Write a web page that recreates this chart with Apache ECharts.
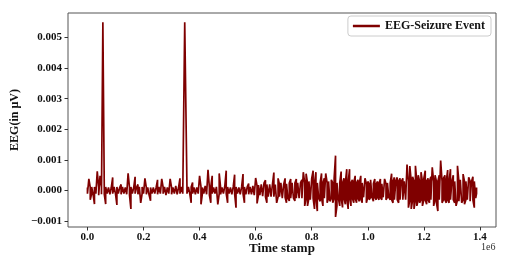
<!DOCTYPE html>
<html>
<head>
<meta charset="utf-8">
<script src="https://cdn.jsdelivr.net/npm/echarts@6/dist/echarts.min.js"></script>
<style>html,body{margin:0;padding:0;background:#fff}#c{width:512px;height:268px}</style>
</head>
<body>
<div id="c"></div>
<script>
// Time stamps (samples)
const timeStamp = [
0,5e3,10e3,15e3,20e3,25e3,30e3,35e3,40e3,45e3,50e3,55e3,60e3,65e3,70e3,75e3,80e3,85e3,90e3,95e3,
100e3,105e3,110e3,115e3,120e3,125e3,130e3,135e3,140e3,145e3,150e3,155e3,160e3,165e3,170e3,175e3,180e3,185e3,190e3,195e3,
200e3,205e3,210e3,215e3,220e3,225e3,230e3,235e3,240e3,245e3,250e3,255e3,260e3,265e3,270e3,275e3,280e3,285e3,290e3,295e3,
300e3,305e3,310e3,315e3,320e3,325e3,330e3,335e3,340e3,347e3,355e3,360e3,365e3,370e3,375e3,380e3,385e3,390e3,395e3,
400e3,405e3,410e3,415e3,420e3,425e3,430e3,435e3,440e3,445e3,450e3,455e3,460e3,465e3,470e3,475e3,480e3,485e3,490e3,495e3,
500e3,505e3,510e3,515e3,520e3,525e3,530e3,535e3,540e3,545e3,550e3,555e3,560e3,565e3,570e3,575e3,580e3,585e3,590e3,595e3,
600e3,605e3,610e3,615e3,620e3,625e3,630e3,635e3,640e3,645e3,650e3,655e3,660e3,665e3,670e3,675e3,680e3,685e3,690e3,695e3,
700e3,705e3,710e3,715e3,720e3,725e3,730e3,735e3,740e3,745e3,750e3,755e3,760e3,765e3,770e3,775e3,780e3,785e3,790e3,795e3,
800e3,805e3,810e3,815e3,820e3,825e3,830e3,835e3,840e3,845e3,850e3,855e3,860e3,865e3,870e3,875e3,880e3,885e3,890e3,895e3,
900e3,905e3,910e3,915e3,920e3,925e3,930e3,935e3,940e3,945e3,950e3,955e3,960e3,965e3,970e3,975e3,980e3,985e3,990e3,995e3,
1000e3,1005e3,1010e3,1015e3,1020e3,1025e3,1030e3,1035e3,1040e3,1045e3,1050e3,1055e3,1060e3,1065e3,1070e3,1075e3,1080e3,1085e3,1090e3,1095e3,
1100e3,1105e3,1110e3,1115e3,1120e3,1125e3,1130e3,1135e3,1140e3,1145e3,1150e3,1155e3,1160e3,1165e3,1170e3,1175e3,1180e3,1185e3,1190e3,1195e3,
1200e3,1205e3,1210e3,1215e3,1220e3,1225e3,1230e3,1235e3,1240e3,1245e3,1250e3,1255e3,1260e3,1265e3,1270e3,1275e3,1280e3,1285e3,1290e3,1295e3,
1300e3,1305e3,1310e3,1315e3,1320e3,1325e3,1330e3,1335e3,1340e3,1345e3,1350e3,1355e3,1360e3,1365e3,1370e3,1375e3,1380e3,1385e3,1388e3
];
// EEG per-sample maximum (in µV as labelled)
const eegHigh = [
1.0e-4,3.8e-4,1.0e-4,1.2e-4,1.0e-4,1.2e-4,1.5e-4,6.3e-4,1.0e-4,4.8e-4,1.2e-4,55e-4,1.0e-4,1.2e-4,1.2e-4,1.0e-4,1.5e-4,1.0e-4,4.3e-4,1.2e-4,
1.0e-4,1.2e-4,1.6e-4,1.0e-4,2.0e-4,1.2e-4,1.2e-4,1.0e-4,1.5e-4,5.6e-4,1.0e-4,1.2e-4,1.8e-4,1.0e-4,4.5e-4,1.0e-4,2.0e-4,1.2e-4,1.0e-4,1.2e-4,
1.0e-4,4.0e-4,1.0e-4,1.0e-4,1.2e-4,1.0e-4,1.2e-4,1.0e-4,1.5e-4,1.0e-4,3.5e-4,1.2e-4,1.0e-4,3.8e-4,1.0e-4,1.2e-4,1.0e-4,1.0e-4,1.2e-4,3.8e-4,
1.0e-4,1.0e-4,1.2e-4,1.5e-4,1.0e-4,1.0e-4,4.0e-4,1.2e-4,1.2e-4,55e-4,1.0e-4,1.2e-4,1.0e-4,1.2e-4,2.6e-4,1.0e-4,1.5e-4,1.0e-4,1.0e-4,
4.8e-4,1.2e-4,1.0e-4,1.0e-4,1.5e-4,1.2e-4,6.8e-4,1.0e-4,1.2e-4,4.8e-4,1.0e-4,1.0e-4,1.2e-4,1.0e-4,5.6e-4,1.0e-4,1.0e-4,1.2e-4,1.5e-4,6.5e-4,
1.2e-4,1.2e-4,1.0e-4,1.5e-4,1.2e-4,5.2e-4,1.2e-4,1.5e-4,1.0e-4,1.2e-4,1.2e-4,5.4e-4,1.2e-4,1.2e-4,1.2e-4,2.3e-4,1.2e-4,1.8e-4,1.5e-4,2.0e-4,
4.1e-4,1.5e-4,1.8e-4,1.5e-4,2.0e-4,1.8e-4,2.5e-4,3.4e-4,2.0e-4,2.0e-4,2.0e-4,2.5e-4,2.0e-4,5.9e-4,2.0e-4,2.0e-4,4.0e-4,2.0e-4,2.5e-4,2.2e-4,
2.0e-4,4.0e-4,2.2e-4,2.5e-4,2.5e-4,3.8e-4,2.5e-4,3.0e-4,2.5e-4,3.8e-4,2.5e-4,2.5e-4,2.5e-4,3.5e-4,6.0e-4,2.5e-4,5.5e-4,2.5e-4,3.0e-4,2.5e-4,
4.0e-4,6.5e-4,2.5e-4,6.0e-4,2.5e-4,3.0e-4,2.5e-4,5.6e-4,2.5e-4,4.0e-4,5.6e-4,2.5e-4,3.0e-4,2.5e-4,3.5e-4,2.5e-4,4.0e-4,11.4e-4,2.5e-4,3.0e-4,
2.5e-4,6.2e-4,2.5e-4,4.0e-4,2.5e-4,7.0e-4,2.5e-4,7.0e-4,2.5e-4,3.5e-4,2.5e-4,4.8e-4,2.5e-4,3.5e-4,2.5e-4,4.8e-4,2.5e-4,3.0e-4,4.0e-4,2.2e-4,
3.0e-4,2.2e-4,3.5e-4,4.0e-4,2.2e-4,3.8e-4,2.2e-4,3.0e-4,2.2e-4,3.8e-4,2.2e-4,2.5e-4,3.8e-4,2.2e-4,2.5e-4,3.0e-4,2.5e-4,5.5e-4,3.0e-4,4.3e-4,
3.0e-4,4.3e-4,3.0e-4,4.0e-4,3.0e-4,4.0e-4,3.0e-4,3.0e-4,8.5e-4,3.0e-4,8.0e-4,3.0e-4,4.5e-4,3.0e-4,8.1e-4,3.0e-4,5.0e-4,3.0e-4,6.0e-4,3.0e-4,
4.0e-4,6.5e-4,3.0e-4,4.0e-4,3.0e-4,4.5e-4,7.6e-4,3.0e-4,5.0e-4,3.0e-4,3.0e-4,5.0e-4,9.8e-4,3.0e-4,4.0e-4,5.0e-4,3.0e-4,6.7e-4,3.0e-4,7.0e-4,
3.0e-4,5.0e-4,3.0e-4,3.0e-4,8.1e-4,3.0e-4,3.5e-4,3.0e-4,5.4e-4,3.0e-4,3.0e-4,3.0e-4,4.3e-4,3.0e-4,3.0e-4,4.5e-4,3.0e-4,2.5e-4,1.0e-4
];
// EEG per-sample minimum
const eegLow = [
-1.0e-4,-1.2e-4,-3.0e-4,-1.0e-4,-1.2e-4,-4.4e-4,-1.0e-4,-1.2e-4,-1.5e-4,-1.0e-4,-1.2e-4,-1.0e-4,-1.2e-4,-4.4e-4,-1.0e-4,-1.0e-4,-1.2e-4,-1.2e-4,-1.0e-4,-1.3e-4,
-1.0e-4,-4.7e-4,-1.0e-4,-1.0e-4,-1.2e-4,-1.5e-4,-1.0e-4,-1.0e-4,-1.2e-4,-1.0e-4,-1.5e-4,-6.0e-4,-1.0e-4,-1.2e-4,-1.0e-4,-1.0e-4,-1.2e-4,-1.5e-4,-4.0e-4,-1.0e-4,
-1.0e-4,-1.2e-4,-1.2e-4,-1.0e-4,-1.5e-4,-3.3e-4,-1.0e-4,-0.8e-4,-1.0e-4,-1.0e-4,-1.2e-4,-1.2e-4,-1.0e-4,-1.0e-4,-1.0e-4,-1.2e-4,-1.5e-4,-1.0e-4,-1.0e-4,-1.2e-4,
-1.2e-4,-1.0e-4,-1.0e-4,-1.2e-4,-1.2e-4,-1.0e-4,-1.0e-4,-1.3e-4,-1.0e-4,-1.0e-4,-1.0e-4,-1.2e-4,-1.0e-4,-4.0e-4,-1.0e-4,-1.0e-4,-1.2e-4,-1.2e-4,-1.0e-4,
-1.0e-4,-4.5e-4,-1.0e-4,-1.0e-4,-1.2e-4,-1.2e-4,-1.0e-4,-1.5e-4,-4.0e-4,-1.0e-4,-1.2e-4,-1.0e-4,-1.0e-4,-4.5e-4,-1.0e-4,-1.2e-4,-1.0e-4,-1.0e-4,-1.2e-4,-1.0e-4,
-4.0e-4,-1.0e-4,-1.0e-4,-1.2e-4,-1.2e-4,-1.0e-4,-5.6e-4,-1.0e-4,-1.0e-4,-1.2e-4,-1.5e-4,-1.0e-4,-4.0e-4,-1.2e-4,-1.5e-4,-1.2e-4,-1.5e-4,-1.2e-4,-1.2e-4,-1.5e-4,
-1.5e-4,-4.2e-4,-1.5e-4,-1.5e-4,-1.8e-4,-1.8e-4,-1.8e-4,-2.0e-4,-4.0e-4,-2.0e-4,-2.0e-4,-2.0e-4,-1.8e-4,-2.0e-4,-2.0e-4,-4.0e-4,-2.0e-4,-2.0e-4,-2.2e-4,-2.5e-4,
-2.2e-4,-2.2e-4,-4.0e-4,-2.5e-4,-3.4e-4,-2.5e-4,-2.5e-4,-2.5e-4,-3.4e-4,-2.5e-4,-2.8e-4,-2.5e-4,-3.0e-4,-2.5e-4,-2.5e-4,-5.0e-4,-2.5e-4,-5.0e-4,-2.5e-4,-3.0e-4,
-2.5e-4,-2.5e-4,-6.0e-4,-2.5e-4,-6.7e-4,-2.5e-4,-3.5e-4,-2.5e-4,-5.0e-4,-2.5e-4,-2.5e-4,-4.0e-4,-2.5e-4,-3.5e-4,-2.5e-4,-4.0e-4,-2.5e-4,-8.6e-4,-5.0e-4,-2.5e-4,
-5.0e-4,-2.5e-4,-5.5e-4,-2.5e-4,-4.5e-4,-2.5e-4,-6.0e-4,-2.5e-4,-5.0e-4,-2.5e-4,-4.0e-4,-2.5e-4,-4.0e-4,-2.5e-4,-3.5e-4,-2.5e-4,-4.0e-4,-2.2e-4,-2.2e-4,-4.0e-4,
-2.2e-4,-3.0e-4,-2.2e-4,-2.2e-4,-3.5e-4,-2.2e-4,-3.0e-4,-2.2e-4,-3.0e-4,-2.2e-4,-3.0e-4,-2.2e-4,-2.2e-4,-3.0e-4,-2.2e-4,-2.2e-4,-3.0e-4,-3.0e-4,-4.0e-4,-3.0e-4,
-3.5e-4,-3.0e-4,-4.0e-4,-3.0e-4,-3.5e-4,-3.0e-4,-3.5e-4,-3.0e-4,-3.0e-4,-5.6e-4,-3.0e-4,-6.0e-4,-3.0e-4,-6.0e-4,-3.0e-4,-5.0e-4,-3.0e-4,-4.0e-4,-3.0e-4,-5.0e-4,
-3.0e-4,-3.0e-4,-4.5e-4,-3.0e-4,-4.0e-4,-3.0e-4,-3.0e-4,-5.0e-4,-3.0e-4,-4.0e-4,-6.7e-4,-3.0e-4,-3.0e-4,-4.0e-4,-3.0e-4,-3.0e-4,-4.0e-4,-3.0e-4,-4.0e-4,-3.0e-4,
-3.5e-4,-3.0e-4,-4.0e-4,-5.0e-4,-3.0e-4,-3.5e-4,-3.0e-4,-4.0e-4,-3.0e-4,-4.5e-4,-3.0e-4,-3.0e-4,-3.0e-4,-3.5e-4,-3.0e-4,-3.0e-4,-5.6e-4,-2.5e-4,-1.0e-4
];
const xTicks = [0,200000,400000,600000,800000,1000000,1200000,1400000];
const yTicks = [-0.001,0,0.001,0.002,0.003,0.004,0.005];
const seriesName = 'EEG-Seizure Event';

// each sample drawn as a vertical stroke from its max to its min
const lineData = [];
timeStamp.forEach((t,i)=>{
  if (i % 2 === 0) { lineData.push([t, eegHigh[i]], [t, eegLow[i]]); }
  else { lineData.push([t, eegLow[i]], [t, eegHigh[i]]); }
});

const serif = '"Liberation Serif","Times New Roman",serif';
const chart = echarts.init(document.getElementById('c'), null, {renderer:'canvas'});
chart.setOption({
  animation:false,
  backgroundColor:'#fff',
  grid:{left:68,right:16,top:13,bottom:41,show:true,borderColor:'#555',borderWidth:1,backgroundColor:'transparent'},
  legend:{
    data:[{name:seriesName,icon:'rect'}],
    right:21, top:16,
    itemWidth:27, itemHeight:2.5,
    padding:[4,6,4,5],
    borderColor:'#ccc', borderWidth:1, borderRadius:3,
    backgroundColor:'#fff',
    textStyle:{fontFamily:serif,fontWeight:'bold',fontSize:12,color:'#111'}
  },
  xAxis:{
    type:'value', min:-69400, max:1457400,
    name:'Time stamp', nameLocation:'middle', nameGap:15, nameMoveOverlap:false,
    nameTextStyle:{fontFamily:serif,fontWeight:'bold',fontSize:13,color:'#111'},
    axisLine:{show:false,onZero:false},
    axisTick:{show:true,length:3.5,customValues:xTicks,lineStyle:{color:'#333'}},
    axisLabel:{customValues:xTicks,fontFamily:serif,fontWeight:'bold',fontSize:11,color:'#111',margin:5,
      formatter:v=>(v/1e6).toFixed(1)},
    splitLine:{show:false}
  },
  yAxis:{
    type:'value', min:-0.00119, max:0.0058,
    name:'EEG(in µV)', nameLocation:'middle', nameGap:47, nameMoveOverlap:false,
    nameTextStyle:{fontFamily:serif,fontWeight:'bold',fontSize:12,color:'#111'},
    axisLine:{show:false,onZero:false},
    axisTick:{show:true,length:3.5,customValues:yTicks,lineStyle:{color:'#333'}},
    axisLabel:{customValues:yTicks,fontFamily:serif,fontWeight:'bold',fontSize:11,color:'#111',margin:6,
      formatter:v=>(v<0?'\u2212':'')+Math.abs(v).toFixed(3)},
    splitLine:{show:false}
  },
  graphic:[{type:'text',left:481,top:242,style:{text:'1e6',font:'10px '+serif,fill:'#333'}}],
  series:[{
    name:seriesName, type:'line',
    data:lineData,
    showSymbol:false, symbol:'none', sampling:null,
    lineStyle:{color:'#7f0000',width:1.7},
    itemStyle:{color:'#7f0000'}
  }]
});
</script>
</body>
</html>
